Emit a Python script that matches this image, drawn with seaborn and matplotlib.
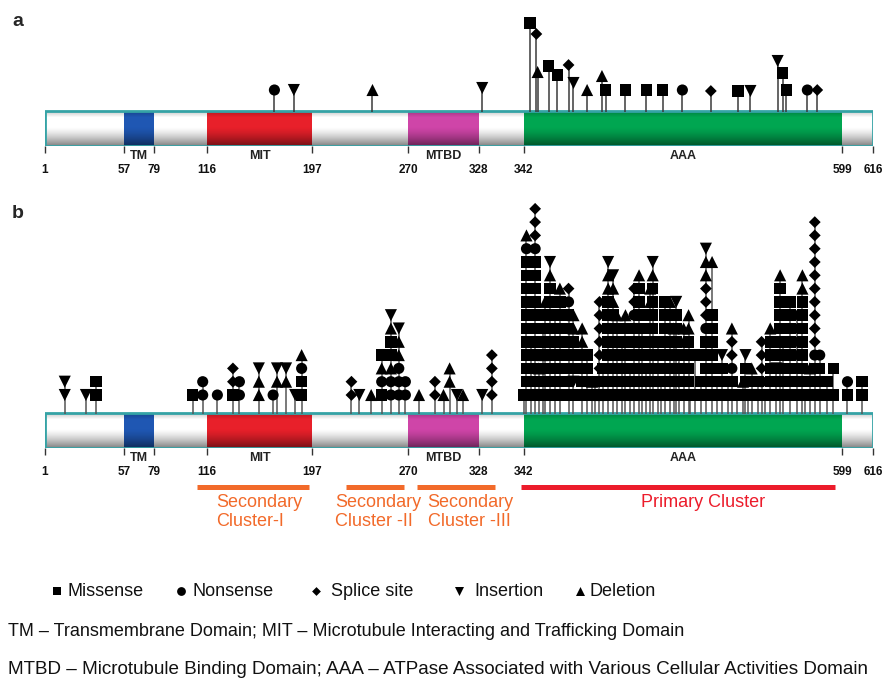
import numpy as np
import pandas as pd
import seaborn as sns
import matplotlib.pyplot as plt
from matplotlib.patches import Rectangle

sns.set_theme(style='white')
plt.rcParams['font.family'] = ['Liberation Sans', 'DejaVu Sans']

# ---- data ----
domain_names = ['TM', 'MIT', 'MTBD', 'AAA']
domain_start = [57, 116, 270, 342]
domain_end = [79, 197, 328, 599]
protein_len = 616
tick_res = [1, 57, 79, 116, 197, 270, 328, 342, 599, 616]

# panel a: one mutation per stem (residue, type, stem height)
a_pos = [168, 183, 243, 329, 347, 352, 353, 362, 369, 378, 382, 393, 405,
         408, 424, 441, 454, 470, 493, 515, 525, 547, 551, 554, 571, 579]
a_type = ['o', 'v', '^', 'v', 's', 'd', '^', 's', 's', 'd', 'v', '^', '^',
          's', 's', 's', 's', 'o', 'd', 's', 'v', 'v', 's', 's', 'o', 'd']
a_height = [21, 21, 21, 23, 88, 77, 39, 45, 36, 46, 28, 21, 35,
            21, 21, 21, 21, 21, 20, 20, 20, 50, 38, 21, 21, 21]

# panel b: stacked mutations per residue, bottom to top ('.' = empty slot)
b_pos = [15, 30, 37, 106, 113, 124, 136, 141, 156, 167, 170, 177, 184, 189,
         227, 233, 242, 250, 257, 263, 268, 279, 292, 299, 304, 310, 315, 329, 332,
         342, 344, 348, 351, 354, 357, 359, 363, 367, 371, 378, 382, 389, 393,
         397, 399, 403, 406, 410, 414, 417, 421, 424, 428, 431, 435, 437, 441,
         444, 446, 450, 453, 456, 460, 463, 465, 467, 471, 475, 476, 480, 485,
         489, 494, 498, 502, 507, 510, 514, 519, 521, 523, 526, 531, 534, 537,
         541, 546, 549, 551, 557, 563, 567, 569, 573, 577, 581, 587, 592, 602, 610]
b_stack = ['vv', 'v', 'ss', 's', 'oo', 'o', 'sdd', 'oo', '^^v', 'o', '.^v', '.^v', 'v', 'sso^',
           'dd', 'v', '^', 'so^s', 'oo^ss^v', 'ooo^^v', 'oo', '^', 'dd', '^', '.^^', 'v', '^', 'v', 'dddd',
           's', 'ssssssssssso^', 'sssss', 'sssssssssssoddd', 'ss^', 'sss^so', 'sssssss^',
           'sssssssss^v', 'sssssss', 'ssssssss^', 'sssssssod', 'svsss^^', 'ssss^^', 'ssss',
           's^', 'ss', '^ddddddd', 'sss', 'ssssssss^^v', 'sssssss^^v', 'ssssss^', 'sssso',
           'ssssss^', 'sss', 'ssssssodd', 'sssssssss^', 'ssssss', 'sss',
           'sssssss^^', 'sssssssss^v', 'sssss', 'ss', 'ssssssss', 'sssssss^', 'ssssd^',
           'sssssssv', 'sddd', 'ssss^^', 'sssss^^', 's', 's..s', 'ss',
           'sssssoddd^^v', 'sssssss...^', 'ss', 'sssv', 'ss', 'ssodd^', 's', 's^', 'sssv',
           's', 'vs^', 'ss', 'soddd', 's',
           'sssss^', 'ssv', 'sssssssss^', 'sssss', 'ssssssss', 'ssodddd', 'ssssssss^^',
           'o', 'ss^', 'sssodddddddddd', 'ssso', 'ss', 's.s', 'so', 'ss']

cluster_names = ['Secondary\nCluster-I', 'Secondary\nCluster -II',
                 'Secondary\nCluster -III', 'Primary Cluster']
cluster_start = [109, 223, 277, 341]
cluster_end = [195, 267, 333, 593]

kind_names = {'s': 'Missense', 'o': 'Nonsense', 'd': 'Splice site',
              'v': 'Insertion', '^': 'Deletion'}

# ---- styles / layout ----
W, H = 886, 681
domain_colors = ['#1f57b3', '#e8202a', '#cf45a8', '#00a651']
TEAL = '#35a3a6'
ORANGE = '#f26a2a'
RED = '#ec1c2b'
BAR_H = 35
LEVEL0, LEVEL_DY = 18, 13.3
markers = {'Missense': 's', 'Nonsense': 'o', 'Splice site': 'D',
           'Insertion': 'v', 'Deletion': '^'}
sizes = {'Missense': 68, 'Nonsense': 64, 'Splice site': 36,
         'Insertion': 76, 'Deletion': 76}

# the drawing stretches the sequence unevenly; map residues to drawing units
RES_BP = [-1000, 1, 57, 79, 116, 197, 270, 328, 342, 599, 616, 1616]
PX_BP = [45 - 1410, 45, 124, 154, 207, 312, 408, 479, 524, 842, 873, 873 + 1800]


def fwd(x):
    return np.interp(x, RES_BP, PX_BP)


def inv(x):
    return np.interp(x, PX_BP, RES_BP)


def rect(x0, ytop, x1, ybot):
    return [x0 / W, 1 - ybot / H, (x1 - x0) / W, (ybot - ytop) / H]


def shade(t):
    a = 0.0
    if t < 0.18:
        a += 0.22 * (1 - t / 0.18)
    if t > 0.45:
        a += 0.5 * ((t - 0.45) / 0.55) ** 1.4
    return a


def draw_bar(ax):
    # white gaps + coloured domains
    edges = [1]
    colors = []
    for s, e, c in zip(domain_start, domain_end, domain_colors):
        edges += [s, e]
        colors += ['white', c]
    edges.append(protein_len)
    colors.append('white')
    for s, e, c in zip(edges[:-1], edges[1:], colors):
        ax.add_patch(Rectangle((s, -BAR_H), e - s, BAR_H, facecolor=c,
                               edgecolor='none', zorder=1))
    n = 35
    for i in range(n):
        y0 = -BAR_H + i * BAR_H / n
        t = 1 - (i + 0.5) / n
        ax.add_patch(Rectangle((1, y0), protein_len - 1, BAR_H / n + 0.05,
                               facecolor='black', alpha=shade(t),
                               edgecolor='none', zorder=1.1))
    ax.add_patch(Rectangle((1, -BAR_H), protein_len - 1, BAR_H, fill=False,
                           edgecolor=TEAL, lw=2, zorder=1.2))
    for name, s, e in zip(domain_names, domain_start, domain_end):
        ax.text((s + e) / 2, -BAR_H - 10, name, ha='center', va='center',
                fontsize=9, fontweight='bold', color='#222', clip_on=False)


def setup(ax, ytop):
    ax.set_xscale('function', functions=(fwd, inv))
    ax.set_xlim(1, protein_len)
    ax.set_ylim(-BAR_H, ytop)
    for sp in ax.spines.values():
        sp.set_visible(False)
    ax.set_facecolor('none')
    ax.set_xticks(tick_res)
    ax.set_xticklabels([str(t) for t in tick_res])
    ax.minorticks_off()
    ax.set_yticks([])
    ax.tick_params(axis='x', bottom=True, length=5, width=1, color='#333',
                   pad=8, labelsize=8.5, labelcolor='#111')
    for lab in ax.get_xticklabels():
        lab.set_fontweight('bold')
    ax.set_xlabel('')
    ax.set_ylabel('')


def plot_marks(ax, df, stem_pos, stem_top, stem_color):
    ax.vlines(stem_pos, -1, stem_top, color=stem_color, lw=1.1, zorder=2)
    sns.scatterplot(data=df, x='pos', y='y', style='kind', markers=markers,
                    size='kind', sizes=sizes, color='black', linewidth=0,
                    legend=False, ax=ax, zorder=3, clip_on=False)
    ax.set_xlabel('')
    ax.set_ylabel('')


fig = plt.figure(figsize=(W / 100, H / 100), dpi=100)

# ---- panel a ----
ax_a = fig.add_axes(rect(45, 0, 873, 146))
setup(ax_a, 111)
draw_bar(ax_a)
df_a = pd.DataFrame({'pos': a_pos, 'y': a_height,
                     'kind': [kind_names[k] for k in a_type]})
plot_marks(ax_a, df_a, a_pos, a_height, '#3a3a3a')
setup(ax_a, 111)

# ---- panel b ----
ax_b = fig.add_axes(rect(45, 190, 873, 448))
setup(ax_b, 223)
draw_bar(ax_b)
rows = []
tops = []
for pos, stack in zip(b_pos, b_stack):
    for k, ch in enumerate(stack):
        if ch != '.':
            rows.append((pos, LEVEL0 + k * LEVEL_DY, kind_names[ch]))
    tops.append(LEVEL0 + (len(stack) - 1) * LEVEL_DY)
df_b = pd.DataFrame(rows, columns=['pos', 'y', 'kind'])
plot_marks(ax_b, df_b, b_pos, tops, '#555555')
setup(ax_b, 223)

# clusters under panel b
label_x = [123, 214.5, 286, 487]
for i, (name, s, e) in enumerate(zip(cluster_names, cluster_start, cluster_end)):
    col = RED if name.startswith('Primary') else ORANGE
    ax_b.plot([s, e], [-74, -74], color=col, lw=3.6, solid_capstyle='butt',
              clip_on=False)
    ax_b.text(label_x[i], -81, name, ha='center' if col == RED else 'left',
              va='top', fontsize=13, color=col, linespacing=1.12, clip_on=False)

# ---- overlay: panel letters, legend, footnotes ----
ax_o = fig.add_axes([0, 0, 1, 1])
ax_o.set_xlim(0, W)
ax_o.set_ylim(H, 0)
ax_o.axis('off')
ax_o.patch.set_alpha(0)
ax_o.text(12, 21, 'a', fontsize=14, fontweight='bold', va='center')
ax_o.text(12, 213, 'b', fontsize=14, fontweight='bold', va='center')

leg_x = [57, 181, 316, 459, 580]
leg_text_x = [68, 193, 331, 474, 590]
leg_size = {'Missense': 36, 'Nonsense': 40, 'Splice site': 20,
            'Insertion': 42, 'Deletion': 42}
for x, tx, name in zip(leg_x, leg_text_x, kind_names.values()):
    ax_o.scatter([x], [591], marker=markers[name], s=leg_size[name],
                 color='black', linewidth=0)
    ax_o.text(tx, 591, name, fontsize=13, va='center', color='#111')

ax_o.text(8, 632, 'TM \u2013 Transmembrane Domain; MIT \u2013 Microtubule Interacting '
          'and Trafficking Domain', fontsize=13, va='center', color='#111')
ax_o.text(8, 670, 'MTBD \u2013 Microtubule Binding Domain; AAA \u2013 ATPase Associated '
          'with Various Cellular Activities Domain', fontsize=13.6, va='center',
          color='#111')

fig.savefig('out.png', dpi=100)
